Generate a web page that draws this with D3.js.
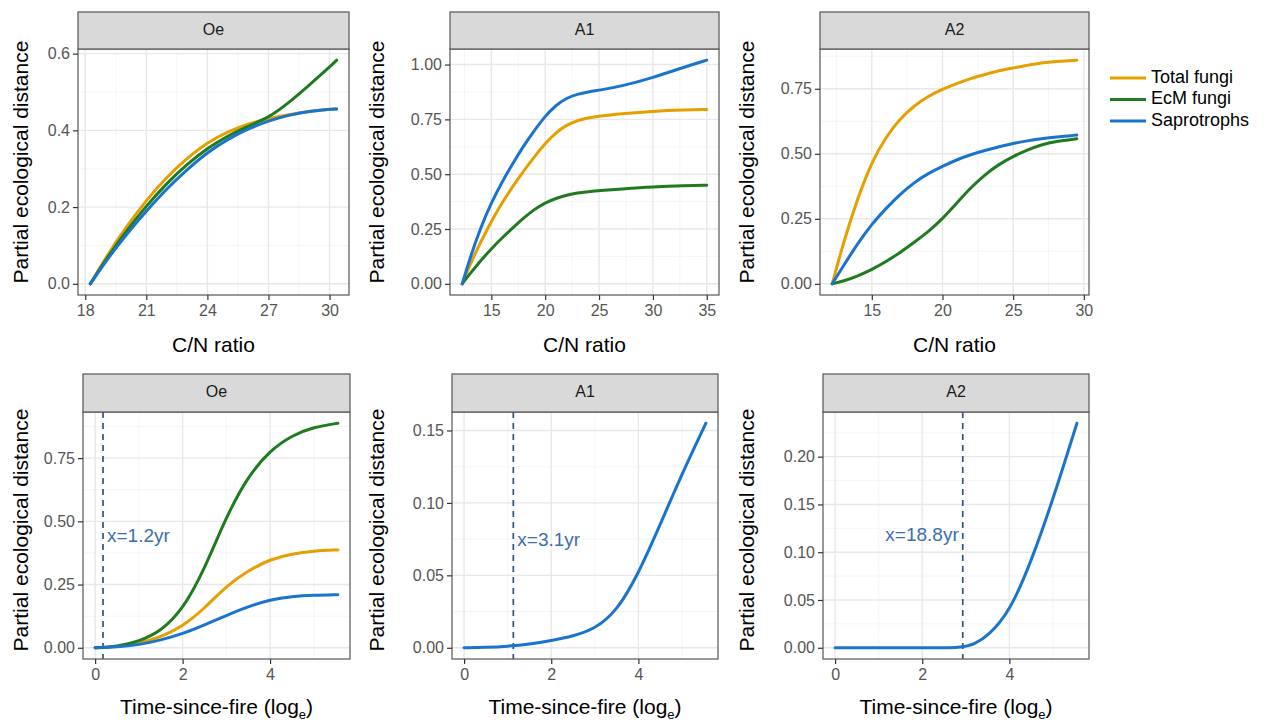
<!DOCTYPE html>
<html>
<head>
<meta charset="utf-8">
<script src="https://cdn.jsdelivr.net/npm/d3@7"></script>
<style>
body { margin: 0; background: #fff; }
svg { display: block; font-family: "Liberation Sans", Arial, sans-serif; }
</style>
</head>
<body>
<div id="chart"></div>
<script>
// ---- data ----
const seriesNames = ["Total fungi", "EcM fungi", "Saprotrophs"];
const seriesColors = ["#E69F00", "#1E7B1E", "#1874CD"];

// C/N ratio, Oe
const oeCN      = [18.25, 19, 20, 21, 22, 23, 24, 25, 26, 27, 28, 29, 30, 30.35];
const oeCNTotal = [0, 0.068, 0.148, 0.218, 0.278, 0.328, 0.368, 0.397, 0.417, 0.431, 0.441, 0.45, 0.455, 0.456];
const oeCNEcm   = [0, 0.062, 0.137, 0.203, 0.262, 0.312, 0.354, 0.386, 0.411, 0.433, 0.472, 0.518, 0.565, 0.583];
const oeCNSap   = [0, 0.058, 0.128, 0.19, 0.248, 0.298, 0.343, 0.377, 0.404, 0.425, 0.44, 0.45, 0.455, 0.456];

// C/N ratio, A1
const a1CN      = [12.3, 13, 14, 15, 16, 17, 18, 19, 20, 21, 22, 23, 24, 25, 27, 30, 33, 35];
const a1CNTotal = [0, 0.085, 0.19, 0.285, 0.37, 0.445, 0.515, 0.58, 0.64, 0.69, 0.725, 0.745, 0.757, 0.765, 0.775, 0.787, 0.793, 0.795];
const a1CNEcm   = [0, 0.045, 0.105, 0.16, 0.21, 0.255, 0.3, 0.34, 0.37, 0.39, 0.405, 0.415, 0.42, 0.425, 0.432, 0.442, 0.448, 0.45];
const a1CNSap   = [0, 0.115, 0.255, 0.37, 0.465, 0.55, 0.63, 0.7, 0.765, 0.815, 0.848, 0.865, 0.875, 0.883, 0.9, 0.94, 0.99, 1.02];

// C/N ratio, A2
const a2CN      = [12.2, 13, 14, 15, 16, 17, 18, 19, 20, 21, 22, 23, 24, 25, 26, 27, 28, 29.5];
const a2CNTotal = [0, 0.16, 0.33, 0.47, 0.565, 0.635, 0.685, 0.722, 0.748, 0.77, 0.79, 0.805, 0.82, 0.83, 0.84, 0.85, 0.855, 0.86];
const a2CNEcm   = [0, 0.01, 0.03, 0.055, 0.085, 0.12, 0.16, 0.2, 0.25, 0.31, 0.37, 0.42, 0.46, 0.49, 0.515, 0.535, 0.548, 0.558];
const a2CNSap   = [0, 0.07, 0.155, 0.23, 0.29, 0.345, 0.39, 0.425, 0.452, 0.477, 0.497, 0.513, 0.527, 0.54, 0.55, 0.558, 0.565, 0.572];

// time since fire (log_e)
const timeX       = [0, 0.5, 1, 1.5, 2, 2.5, 3, 3.5, 4, 4.5, 5, 5.55];
const oeTimeTotal = [0, 0.004, 0.017, 0.042, 0.085, 0.155, 0.245, 0.305, 0.35, 0.372, 0.383, 0.387];
const oeTimeEcm   = [0, 0.005, 0.025, 0.065, 0.15, 0.31, 0.52, 0.68, 0.78, 0.84, 0.873, 0.888];
const oeTimeSap   = [0, 0.003, 0.012, 0.03, 0.055, 0.09, 0.128, 0.163, 0.19, 0.203, 0.208, 0.21];
const a1TimeSap   = [0, 0.0003, 0.001, 0.0025, 0.005, 0.008, 0.013, 0.025, 0.051, 0.085, 0.12, 0.155];
const a2TimeX     = [0, 1, 2, 2.93, 3.2, 3.5, 4, 4.5, 5, 5.55];
const a2TimeSap   = [0, 0, 0, 0, 0.004, 0.012, 0.037, 0.09, 0.155, 0.235];

// thresholds
const thresholdX      = [0.18, 1.13, 2.93];
const thresholdLabels = ["x=1.2yr", "x=3.1yr", "x=18.8yr"];
const thresholdLabelY = [0.44, 0.074, 0.117];

// tick values
const oeCNxTicks = [18, 21, 24, 27, 30], oeCNyTicks = [0, 0.2, 0.4, 0.6];
const a1CNxTicks = [15, 20, 25, 30, 35], a1CNyTicks = [0, 0.25, 0.5, 0.75, 1];
const a2CNxTicks = [15, 20, 25, 30],     a2CNyTicks = [0, 0.25, 0.5, 0.75];
const timeXTicks = [0, 2, 4];
const oeTimeyTicks = [0, 0.25, 0.5, 0.75];
const a1TimeyTicks = [0, 0.05, 0.1, 0.15];
const a2TimeyTicks = [0, 0.05, 0.1, 0.15, 0.2];

// ---- drawing ----
const W = 1283, H = 724;
const svg = d3.select("#chart").append("svg").attr("width", W).attr("height", H);

function expand(ext) {
  const pad = (ext[1] - ext[0]) * 0.05;
  return [ext[0] - pad, ext[1] + pad];
}
function minors(ticks, dom) {
  const step = ticks[1] - ticks[0];
  const out = [];
  for (let v = ticks[0] - step / 2; v <= dom[1]; v += step) {
    if (v >= dom[0]) out.push(v);
  }
  return out;
}

function drawPanel(p) {
  const [x0, x1, y0, y1] = p.box;
  const allX = p.series.flatMap(s => s.x), allY = p.series.flatMap(s => s.y);
  const x = d3.scaleLinear().domain(expand(d3.extent(allX))).range([x0, x1]);
  const y = d3.scaleLinear().domain(expand(d3.extent(allY))).range([y1, y0]);
  const g = svg.append("g");

  // grid
  const grid = g.append("g");
  grid.selectAll(".xm").data(minors(p.xTicks, x.domain())).join("line")
    .attr("x1", d => x(d)).attr("x2", d => x(d)).attr("y1", y0).attr("y2", y1)
    .attr("stroke", "#f2f2f2").attr("stroke-width", 0.8);
  grid.selectAll(".ym").data(minors(p.yTicks, y.domain())).join("line")
    .attr("y1", d => y(d)).attr("y2", d => y(d)).attr("x1", x0).attr("x2", x1)
    .attr("stroke", "#f2f2f2").attr("stroke-width", 0.8);
  grid.selectAll(".xM").data(p.xTicks).join("line")
    .attr("x1", d => x(d)).attr("x2", d => x(d)).attr("y1", y0).attr("y2", y1)
    .attr("stroke", "#e8e8e8").attr("stroke-width", 1.4);
  grid.selectAll(".yM").data(p.yTicks).join("line")
    .attr("y1", d => y(d)).attr("y2", d => y(d)).attr("x1", x0).attr("x2", x1)
    .attr("stroke", "#e8e8e8").attr("stroke-width", 1.4);

  // threshold line
  if (p.vline != null) {
    g.append("line")
      .attr("x1", x(p.vline)).attr("x2", x(p.vline)).attr("y1", y0).attr("y2", y1)
      .attr("stroke", "#2f5580").attr("stroke-width", 1.7).attr("stroke-dasharray", "6,5");
  }

  // curves
  const line = d3.line().curve(d3.curveBasis);
  p.series.forEach(s => {
    g.append("path")
      .attr("d", line(s.x.map((v, i) => [x(v), y(s.y[i])])))
      .attr("fill", "none").attr("stroke", s.color).attr("stroke-width", 3)
      .attr("stroke-linecap", "round");
  });

  if (p.vline != null) {
    g.append("text")
      .attr("x", x(p.vline) + (p.labelAnchor === "end" ? -4 : 4))
      .attr("y", y(p.labelY))
      .attr("dominant-baseline", "middle")
      .attr("text-anchor", p.labelAnchor)
      .attr("fill", "#3a6fae").attr("font-size", 19)
      .text(p.label);
  }

  // border
  g.append("rect").attr("x", x0).attr("y", y0).attr("width", x1 - x0).attr("height", y1 - y0)
    .attr("fill", "none").attr("stroke", "#555").attr("stroke-width", 1.2);

  // strip
  g.append("rect").attr("x", x0).attr("y", p.stripTop).attr("width", x1 - x0).attr("height", y0 - p.stripTop)
    .attr("fill", "#d9d9d9").attr("stroke", "#555").attr("stroke-width", 1.2);
  g.append("text").attr("x", (x0 + x1) / 2).attr("y", (p.stripTop + y0) / 2)
    .attr("dominant-baseline", "middle").attr("text-anchor", "middle")
    .attr("fill", "#1a1a1a").attr("font-size", 16).text(p.strip);

  // axes
  const styleAxis = a => {
    a.select(".domain").remove();
    a.selectAll(".tick line").attr("stroke", "#333").attr("stroke-width", 1.2);
    a.selectAll(".tick text").attr("fill", "#555").attr("font-size", 16)
      .attr("font-family", "Liberation Sans, Arial, sans-serif");
  };
  g.append("g").attr("transform", `translate(0,${y1})`)
    .call(d3.axisBottom(x).tickValues(p.xTicks).tickSize(5).tickPadding(5).tickFormat(d3.format("d")))
    .call(styleAxis);
  g.append("g").attr("transform", `translate(${x0},0)`)
    .call(d3.axisLeft(y).tickValues(p.yTicks).tickSize(5).tickPadding(3).tickFormat(d3.format(p.yFmt)))
    .call(styleAxis);

  // titles
  const xt = g.append("text").attr("x", (x0 + x1) / 2).attr("y", y1 + p.xTitleOff)
    .attr("text-anchor", "middle").attr("font-size", 21).attr("fill", "#000");
  if (p.xTitle === "time") {
    xt.append("tspan").text("Time-since-fire (log");
    xt.append("tspan").attr("font-size", 13).attr("dy", 5).text("e");
    xt.append("tspan").attr("dy", -5).text(")");
  } else {
    xt.text(p.xTitle);
  }
  g.append("text")
    .attr("transform", `translate(${p.yTitleX},${p.yTitleY}) rotate(-90)`)
    .attr("text-anchor", "middle").attr("dominant-baseline", "middle")
    .attr("font-size", 21).attr("fill", "#000")
    .text("Partial ecological distance");
}

const mk = (xs, ys) => ys.map((yv, i) => ({ x: xs, y: yv, color: seriesColors[i] }));

const topRow = { stripTop: 12, y0: 49, y1: 295, titleOff: 57, yTitleY: 162 };
const botRow = { stripTop: 374, y0: 412, y1: 659, titleOff: 55, yTitleY: 530 };

const panels = [
  { box: [78, 349], row: topRow, strip: "Oe", series: mk(oeCN, [oeCNTotal, oeCNEcm, oeCNSap]),
    xTicks: oeCNxTicks, yTicks: oeCNyTicks, yFmt: ".1f", xTitle: "C/N ratio", yTitleX: 22 },
  { box: [450, 719], row: topRow, strip: "A1", series: mk(a1CN, [a1CNTotal, a1CNEcm, a1CNSap]),
    xTicks: a1CNxTicks, yTicks: a1CNyTicks, yFmt: ".2f", xTitle: "C/N ratio", yTitleX: 378 },
  { box: [820, 1089], row: topRow, strip: "A2", series: mk(a2CN, [a2CNTotal, a2CNEcm, a2CNSap]),
    xTicks: a2CNxTicks, yTicks: a2CNyTicks, yFmt: ".2f", xTitle: "C/N ratio", yTitleX: 748 },
  { box: [83, 350], row: botRow, strip: "Oe", series: mk(timeX, [oeTimeTotal, oeTimeEcm, oeTimeSap]),
    xTicks: timeXTicks, yTicks: oeTimeyTicks, yFmt: ".2f", xTitle: "time", yTitleX: 22,
    vline: thresholdX[0], label: thresholdLabels[0], labelY: thresholdLabelY[0], labelAnchor: "start" },
  { box: [452, 718], row: botRow, strip: "A1", series: [{ x: timeX, y: a1TimeSap, color: seriesColors[2] }],
    xTicks: timeXTicks, yTicks: a1TimeyTicks, yFmt: ".2f", xTitle: "time", yTitleX: 378,
    vline: thresholdX[1], label: thresholdLabels[1], labelY: thresholdLabelY[1], labelAnchor: "start" },
  { box: [823, 1089], row: botRow, strip: "A2", series: [{ x: a2TimeX, y: a2TimeSap, color: seriesColors[2] }],
    xTicks: timeXTicks, yTicks: a2TimeyTicks, yFmt: ".2f", xTitle: "time", yTitleX: 748,
    vline: thresholdX[2], label: thresholdLabels[2], labelY: thresholdLabelY[2], labelAnchor: "end" }
];

panels.forEach(p => drawPanel({
  ...p,
  box: [p.box[0], p.box[1], p.row.y0, p.row.y1],
  stripTop: p.row.stripTop, xTitleOff: p.row.titleOff, yTitleY: p.row.yTitleY
}));

// legend
const legend = svg.append("g").attr("transform", "translate(1110,78)");
seriesNames.forEach((name, i) => {
  const row = legend.append("g").attr("transform", `translate(0,${i * 21.5})`);
  row.append("line").attr("x1", 0).attr("x2", 36).attr("y1", 0).attr("y2", 0)
    .attr("stroke", seriesColors[i]).attr("stroke-width", 3);
  row.append("text").attr("x", 41).attr("y", 0).attr("dominant-baseline", "middle")
    .attr("font-size", 18).attr("fill", "#000").text(name);
});
</script>
</body>
</html>
